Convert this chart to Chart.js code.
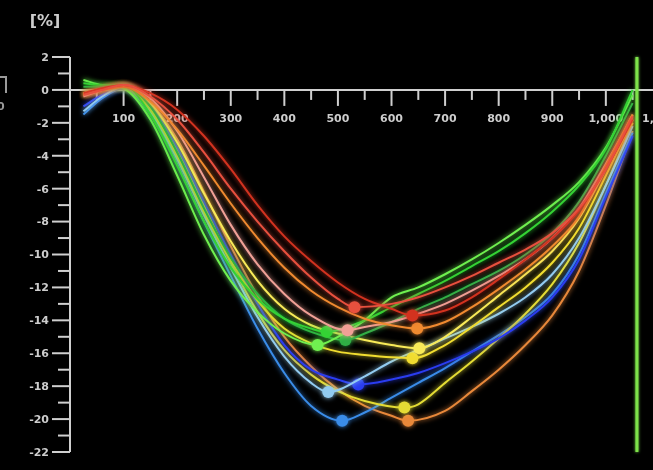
<!DOCTYPE html>
<html>
<head>
<meta charset="utf-8">
<script src="https://cdn.jsdelivr.net/npm/chart.js@4"></script>
<style>
  html, body { margin: 0; padding: 0; background: #000; }
  #wrap { width: 653px; height: 470px; position: relative; background: #000; }
</style>
</head>
<body>
<div id="wrap"><canvas id="c" width="653" height="470"></canvas></div>
<script>
// Time frames (ms) shared by all segment curves
const frames = [25, 60, 100, 150, 200, 250, 300, 350, 400, 450, 500, 550, 600, 650, 700, 750, 800, 850, 900, 950, 1000, 1050];

// Strain (%) per segment at each frame
const segRed        = [-0.3, 0.0, 0.3, -0.4, -1.8, -3.8, -6.0, -8.0, -9.8, -11.4, -12.7, -13.15, -13.0, -12.6, -12.0, -11.3, -10.5, -9.7, -8.7, -7.2, -4.8, -1.6];
const segDarkRed    = [-0.2, 0.1, 0.3, -0.2, -1.2, -2.8, -4.8, -7.0, -8.9, -10.4, -11.7, -12.7, -13.3, -13.7, -13.4, -12.6, -11.5, -10.3, -9.0, -7.3, -4.8, -1.8];
const segOrange     = [-0.3, 0.0, 0.2, -0.7, -2.4, -4.6, -6.9, -9.0, -10.8, -12.2, -13.2, -13.9, -14.3, -14.5, -14.1, -13.2, -12.1, -10.9, -9.5, -7.7, -4.6, -1.5];
const segSalmon     = [-0.4, 0.0, 0.3, -0.5, -2.5, -5.3, -8.2, -10.6, -12.4, -13.7, -14.5, -14.4, -14.1, -13.6, -13.0, -12.2, -11.3, -10.3, -9.0, -7.2, -4.5, -1.6];
const segGreen      = [0.4, 0.3, 0.3, -1.5, -4.6, -8.0, -10.8, -12.7, -13.9, -14.5, -14.5, -14.0, -13.2, -12.4, -11.6, -10.7, -9.8, -8.7, -7.4, -5.8, -3.6, 0.0];
const segLime       = [0.6, 0.3, 0.1, -1.8, -5.2, -8.8, -11.6, -13.5, -14.8, -15.5, -15.0, -14.0, -12.6, -12.0, -11.2, -10.3, -9.3, -8.2, -7.0, -5.6, -3.5, -0.3];
const segDarkGreen  = [0.2, 0.2, 0.2, -1.0, -3.8, -7.2, -10.2, -12.4, -13.9, -14.7, -15.1, -14.8, -14.1, -13.3, -12.6, -11.8, -11.0, -10.0, -8.7, -6.8, -4.0, -0.8];
const segYellow     = [-0.2, 0.1, 0.3, -0.8, -3.2, -6.3, -9.2, -11.6, -13.3, -14.3, -14.8, -15.2, -15.5, -15.7, -15.0, -13.8, -12.5, -11.2, -9.8, -7.8, -4.8, -1.5];
const segGold       = [-0.3, 0.0, 0.2, -1.2, -4.0, -7.4, -10.4, -12.8, -14.5, -15.4, -15.9, -16.1, -16.25, -16.2, -15.5, -14.4, -13.2, -12.0, -10.5, -8.4, -5.2, -1.8];
const segSky        = [-1.3, -0.4, 0.2, -1.3, -4.2, -7.6, -10.8, -13.8, -16.2, -17.8, -18.2, -17.4, -16.5, -15.8, -15.1, -14.4, -13.6, -12.6, -11.2, -9.0, -5.8, -2.2];
const segBlue       = [-1.0, -0.3, 0.1, -1.0, -3.5, -6.8, -10.0, -13.0, -15.5, -17.0, -17.6, -17.85, -17.6, -17.2, -16.6, -15.9, -15.1, -14.0, -12.6, -10.3, -6.5, -2.8];
const segOlive      = [-0.2, 0.0, 0.2, -1.0, -3.6, -7.0, -10.5, -13.5, -15.8, -17.3, -18.3, -18.9, -19.2, -19.1, -17.8, -16.5, -15.1, -13.6, -11.8, -9.3, -5.8, -2.0];
const segAzure      = [-1.5, -0.5, 0.1, -1.5, -4.5, -8.0, -11.3, -14.5, -17.2, -19.2, -20.0, -19.6, -18.7, -17.8, -16.9, -15.9, -14.9, -13.8, -12.4, -10.0, -6.3, -2.6];
const segAmber      = [-0.3, 0.0, 0.2, -0.8, -3.0, -6.2, -9.5, -12.5, -15.0, -16.8, -18.2, -19.2, -19.8, -20.0, -19.5, -18.3, -17.0, -15.5, -13.7, -11.0, -7.0, -2.5];

const segments = [segRed, segDarkRed, segOrange, segSalmon, segGreen, segLime, segDarkGreen,
                  segYellow, segGold, segSky, segBlue, segOlive, segAzure, segAmber];

// Peak systolic strain per segment: time (ms) and value (%)
const peakTime  = [531, 639, 648, 518, 479, 462, 514, 652, 639, 482, 538, 624, 508, 631];
const peakValue = [-13.2, -13.7, -14.5, -14.6, -14.7, -15.5, -15.2, -15.7, -16.3, -18.35, -17.9, -19.3, -20.1, -20.1];

const segColors = ['#e8503e', '#d2321f', '#f08a30', '#f0a096', '#34d234', '#70f050', '#2fae44',
                   '#f8ea58', '#f0dc30', '#92cbf0', '#2a3cf0', '#e4dc34', '#3a8ce8', '#e8883a'];

// Axis ticks
const yTickValues = [2, 0, -2, -4, -6, -8, -10, -12, -14, -16, -18, -20, -22];
const xTickLabels = ['100', '200', '300', '400', '500', '600', '700', '800', '900', '1,000', '1,100'];
const aorticClosure = 1058;

function buildPoints(values, px, py) {
  const pts = [];
  frames.forEach((f, i) => { if (Math.abs(f - px) >= 25) pts.push({ x: f, y: values[i] }); });
  pts.push({ x: px, y: py, peak: true });
  pts.sort((a, b) => a.x - b.x);
  return pts;
}

const datasets = segments.map((vals, i) => ({
  data: buildPoints(vals, peakTime[i], peakValue[i]),
  borderColor: segColors[i],
  backgroundColor: segColors[i],
  borderWidth: 2,
  cubicInterpolationMode: 'monotone',
  pointRadius: ctx => (ctx.raw && ctx.raw.peak ? 6 : 0),
  pointBorderWidth: 0,
  pointHoverRadius: 0
}));

const glow = {
  id: 'glow',
  beforeDatasetDraw(chart, args) {
    const ctx = chart.ctx;
    ctx.save();
    ctx.shadowColor = args.meta._dataset.borderColor;
    ctx.shadowBlur = 5;
  },
  afterDatasetDraw(chart) {
    chart.ctx.restore();
  }
};

const axes = {
  id: 'axes',
  beforeDraw(chart) {
    const ctx = chart.ctx;
    ctx.save();
    ctx.fillStyle = '#000';
    ctx.fillRect(0, 0, chart.width, chart.height);
    ctx.restore();
  },
  beforeDatasetsDraw(chart) {
    const ctx = chart.ctx;
    const xs = chart.scales.x, ys = chart.scales.y;
    const x0 = xs.getPixelForValue(0);
    const y0 = ys.getPixelForValue(0);
    ctx.save();
    ctx.strokeStyle = '#cfcfcf';
    ctx.fillStyle = '#cdcdcd';
    ctx.lineWidth = 2;

    // vertical strain axis
    ctx.beginPath();
    ctx.moveTo(x0, ys.getPixelForValue(2));
    ctx.lineTo(x0, ys.getPixelForValue(-22));
    ctx.stroke();
    for (let v = 2; v >= -22; v--) {
      const y = ys.getPixelForValue(v);
      const len = (v % 2 === 0) ? 18 : 12;
      ctx.beginPath();
      ctx.moveTo(x0 - len, y);
      ctx.lineTo(x0, y);
      ctx.stroke();
    }
    ctx.font = 'bold 11px "DejaVu Sans", sans-serif';
    ctx.textAlign = 'right';
    ctx.textBaseline = 'middle';
    yTickValues.forEach(v => {
      ctx.fillText(String(v), x0 - 21, ys.getPixelForValue(v) + 1);
    });

    // horizontal time axis at zero strain
    ctx.beginPath();
    ctx.moveTo(x0, y0);
    ctx.lineTo(chart.width, y0);
    ctx.stroke();
    for (let t = 50; t <= 1100; t += 50) {
      const x = xs.getPixelForValue(t);
      const len = (t % 100 === 0) ? 16 : 10;
      ctx.beginPath();
      ctx.moveTo(x, y0);
      ctx.lineTo(x, y0 + len);
      ctx.stroke();
    }
    ctx.textAlign = 'center';
    xTickLabels.forEach((lab, i) => {
      ctx.fillText(lab, xs.getPixelForValue((i + 1) * 100), y0 + 29);
    });

    // unit label
    ctx.font = 'bold 16px "DejaVu Sans", sans-serif';
    ctx.fillText('[%]', 45, 22);

    // neighbouring panel edge
    ctx.lineWidth = 2;
    ctx.strokeStyle = '#9a9a9a';
    ctx.beginPath();
    ctx.moveTo(0, 77);
    ctx.lineTo(6, 77);
    ctx.lineTo(6, 93);
    ctx.stroke();
    ctx.fillStyle = '#9a9a9a';
    ctx.font = 'bold 11px "DejaVu Sans", sans-serif';
    ctx.textAlign = 'left';
    ctx.fillText('0', -3, 107);
    ctx.restore();
  },
  afterDatasetsDraw(chart) {
    const ctx = chart.ctx;
    const xs = chart.scales.x, ys = chart.scales.y;
    const x = xs.getPixelForValue(aorticClosure);
    ctx.save();
    ctx.strokeStyle = '#7ee24a';
    ctx.lineWidth = 3;
    ctx.shadowColor = '#7ee24a';
    ctx.shadowBlur = 3;
    ctx.beginPath();
    ctx.moveTo(x, ys.getPixelForValue(2));
    ctx.lineTo(x, ys.getPixelForValue(-22));
    ctx.stroke();
    ctx.restore();
  }
};

new Chart(document.getElementById('c'), {
  type: 'line',
  data: { datasets },
  options: {
    responsive: false,
    animation: false,
    events: [],
    layout: { padding: { left: 70, top: 57, right: 0, bottom: 18 } },
    scales: {
      x: { type: 'linear', min: 0, max: 1088, display: false },
      y: { type: 'linear', min: -22, max: 2, display: false }
    },
    plugins: { legend: { display: false }, tooltip: { enabled: false } }
  },
  plugins: [axes, glow]
});
</script>
</body>
</html>
